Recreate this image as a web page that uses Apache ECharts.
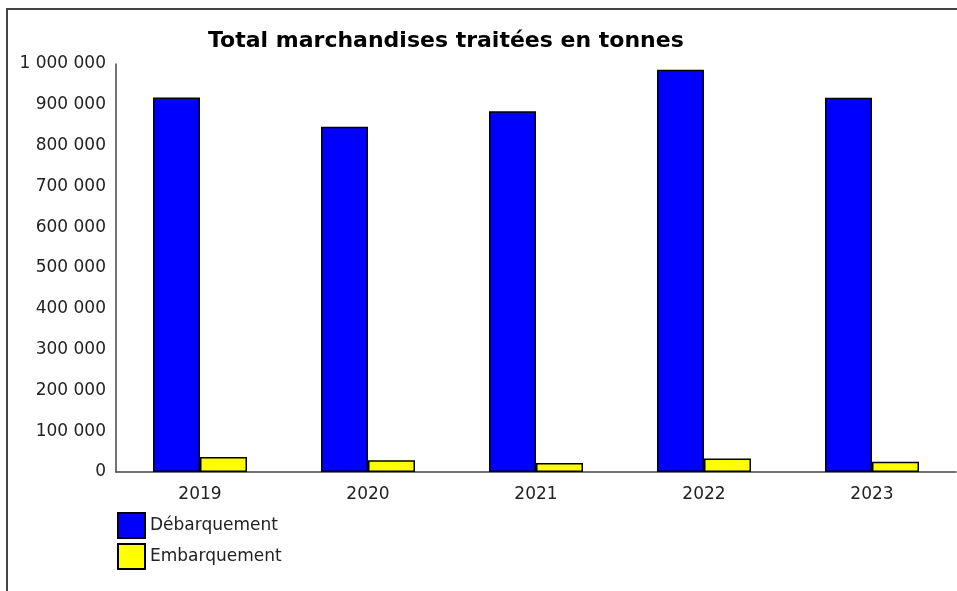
<!DOCTYPE html>
<html>
<head>
<meta charset="utf-8">
<script src="https://cdn.jsdelivr.net/npm/echarts@6/dist/echarts.min.js"></script>
<style>
html, body { margin: 0; padding: 0; background: #fff; }
#main { width: 957px; height: 591px; }
</style>
</head>
<body>
<div id="main"></div>
<script>
// années
const years = ['2019', '2020', '2021', '2022', '2023'];
// tonnes débarquées / embarquées
const debarquement = [918000, 846000, 884000, 986000, 917000];
const embarquement = [37000, 29000, 22000, 33000, 25000];

const axisFont = 'DejaVu Sans';

function spaced(v) {
    return String(v).replace(/\B(?=(\d{3})+(?!\d))/g, ' ');
}

let chart = echarts.init(document.getElementById('main'));

let option = {
    animation: false,
    backgroundColor: '#fff',
    title: {
        text: 'Total marchandises traitées en tonnes',
        left: 203,
        top: 25,
        textStyle: {
            fontFamily: 'DejaVu Sans',
            fontWeight: 'bold',
            fontSize: 22,
            color: '#000'
        }
    },
    graphic: [
        {
            type: 'polyline',
            shape: { points: [[7, 591], [7, 9], [957, 9]] },
            style: { stroke: '#444', lineWidth: 2, fill: null }
        }
    ],
    legend: {
        orient: 'vertical',
        left: 112,
        top: 507,
        itemWidth: 27,
        itemHeight: 25,
        itemGap: 4,
        icon: 'rect',
        textStyle: {
            fontFamily: axisFont,
            fontSize: 17,
            color: '#222'
        },
        data: ['Débarquement', 'Embarquement']
    },
    grid: {
        left: 116,
        top: 64,
        right: 1,
        bottom: 119,
        containLabel: false
    },
    xAxis: {
        type: 'category',
        data: years,
        axisLine: { lineStyle: { color: '#444', width: 1.5 } },
        axisTick: { show: false },
        axisLabel: {
            margin: 14,
            fontFamily: axisFont,
            fontSize: 17,
            color: '#222'
        }
    },
    yAxis: {
        type: 'value',
        min: 0,
        max: 1000000,
        interval: 100000,
        axisLine: { show: true, lineStyle: { color: '#444', width: 1.5 } },
        axisTick: { show: false },
        splitLine: { show: false },
        axisLabel: {
            margin: 10,
            fontFamily: axisFont,
            fontSize: 17,
            color: '#222',
            formatter: spaced
        }
    },
    series: [
        {
            name: 'Débarquement',
            type: 'bar',
            data: debarquement,
            barWidth: 47,
            barGap: '0%',
            itemStyle: { color: '#0000ff', borderColor: '#000', borderWidth: 1.5 }
        },
        {
            name: 'Embarquement',
            type: 'bar',
            data: embarquement,
            barWidth: 47,
            itemStyle: { color: '#ffff00', borderColor: '#000', borderWidth: 1.5 }
        }
    ]
};

chart.setOption(option);
</script>
</body>
</html>
